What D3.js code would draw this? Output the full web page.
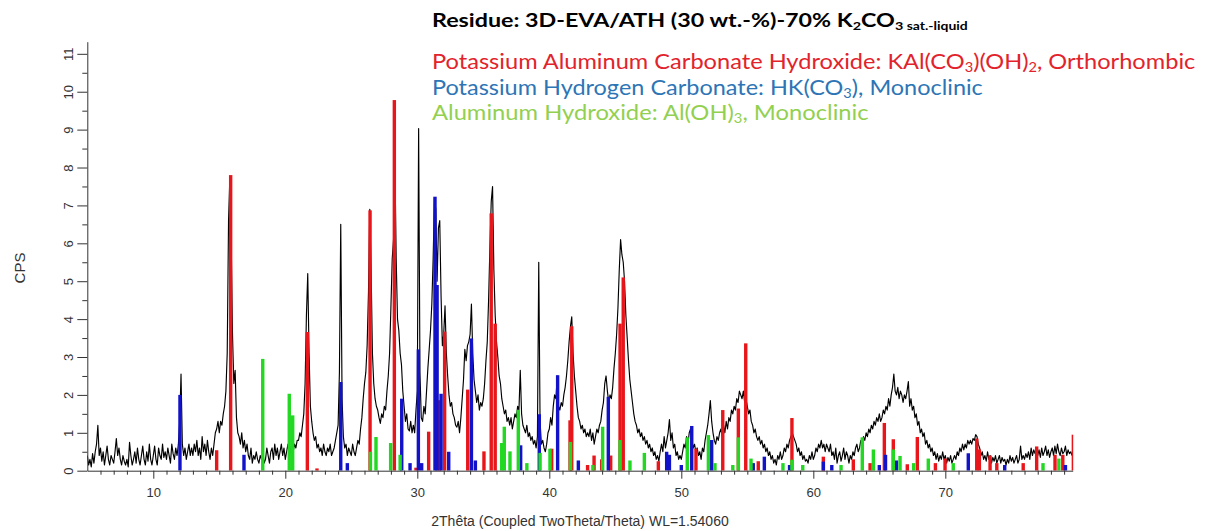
<!DOCTYPE html>
<html>
<head>
<meta charset="utf-8">
<script src="https://cdnjs.cloudflare.com/ajax/libs/d3/7.8.5/d3.min.js"></script>
<style>
  body { margin: 0; background: #fff; }
  svg { display: block; }
  .axis text { font-family: "Liberation Sans", Arial, sans-serif; font-size: 13px; fill: #333; }
  .axis line, .axis path { stroke: #333; }
</style>
</head>
<body>
<svg id="chart" width="1205" height="531"></svg>
<script>
// measured intensity (CPS), sampled every 0.1 deg 2theta, one array per 15 deg
var STEP = 0.1
var cpsFrom5 = [
  0.4,0.15,0.3,0.1,0.45,0.2,0.5,0.7,1.2,0.4,
  0.6,0.25,0.5,0.15,0.4,0.65,0.3,0.15,0.4,0.3,
  0.2,0.5,0.85,0.4,0.6,0.3,0.15,0.4,0.25,0.15,
  0.3,0.1,0.75,0.4,0.15,0.3,0.5,0.2,0.6,0.3,
  0.15,0.4,0.65,0.3,0.15,0.5,0.25,0.7,0.3,0.15,
  0.4,0.65,0.3,0.15,0.6,0.4,0.3,0.7,0.35,0.5,
  0.3,0.6,0.4,0.2,0.7,0.45,0.3,0.6,0.4,0.7,
  1.3,2.55,0.7,0.4,0.6,0.3,0.5,0.7,0.4,0.6,
  0.4,0.7,0.5,0.8,0.4,0.6,0.3,0.9,0.5,0.7,
  0.4,0.8,0.5,0.3,0.6,0.4,0.7,1.0,1.1,1.3,
  1.0,1.3,1.2,1.5,1.7,2.1,3.1,6.6,7.75,6.1,
  3.6,2.3,2.65,1.4,1.0,0.9,0.7,1.0,0.6,0.8,
  0.5,0.7,0.4,0.3,0.6,0.2,0.4,0.3,0.5,0.3,
  0.2,0.4,0.3,0.5,0.2,0.3,0.6,0.4,0.2,0.5,
  0.6,0.3,0.7,0.4,0.6,0.3,0.5,0.7,0.4,0.6
]
var cpsFrom20 = [
  0.3,0.5,0.7,0.4,0.6,0.3,0.5,0.7,0.6,0.8,
  0.8,1.0,0.9,1.2,1.5,2.3,4.1,5.2,3.1,1.7,
  1.3,1.0,0.8,0.9,0.6,0.7,0.5,0.6,0.4,0.7,
  0.5,0.4,0.6,0.5,0.7,0.4,0.5,0.6,0.8,1.0,
  1.2,2.6,6.5,1.9,0.9,0.6,0.7,0.4,0.6,0.5,
  0.4,0.7,0.5,0.4,0.6,0.8,0.7,1.1,1.4,1.9,
  2.3,2.6,3.3,4.7,6.9,5.3,3.1,2.3,1.9,1.7,
  1.6,1.4,1.25,1.5,1.4,1.7,1.6,2.1,2.5,3.1,
  4.3,5.6,6.1,8.2,5.6,4.0,3.7,3.1,2.8,2.1,
  1.7,1.3,1.5,1.1,1.05,1.3,1.0,1.2,1.0,1.6,
  2.1,9.03,2.6,1.4,1.3,1.7,1.5,2.1,2.7,3.2,
  3.7,4.4,5.6,7.2,6.9,5.0,6.4,6.6,4.6,3.3,
  3.6,4.35,3.1,2.5,2.0,1.7,1.8,1.5,1.4,1.2,
  1.15,1.3,1.0,1.4,1.9,2.4,3.2,2.9,3.3,3.4,
  3.6,4.4,3.1,2.4,2.1,1.8,2.0,1.6,1.8,1.7
]
var cpsFrom35 = [
  1.9,2.3,2.9,3.4,4.5,5.9,7.1,7.5,5.3,4.1,
  3.4,3.0,2.5,2.3,1.9,1.7,1.5,1.6,1.3,1.4,
  1.2,1.4,1.1,1.3,1.5,1.4,1.7,1.6,2.65,1.5,
  1.2,1.1,1.0,1.2,0.9,1.0,0.8,0.9,0.7,0.8,
  0.6,0.9,5.5,1.3,0.7,0.8,0.6,0.5,0.7,1.0,
  1.1,1.4,1.2,1.7,2.0,1.9,2.5,1.7,1.6,1.8,
  1.7,2.0,2.2,2.5,2.9,3.4,3.8,4.06,3.1,2.5,
  2.1,1.7,1.4,1.3,1.1,1.2,1.0,1.1,0.9,1.0,
  0.9,1.1,0.8,1.0,0.7,0.9,1.1,1.0,1.2,1.3,
  1.6,1.8,2.3,2.5,2.1,1.8,2.0,1.9,2.2,2.7,
  3.1,3.6,4.3,5.3,6.1,5.7,5.5,5.0,4.1,3.5,
  2.9,2.4,2.1,1.8,1.5,1.3,1.2,1.0,1.1,0.9,
  1.0,0.8,0.9,0.7,0.8,0.6,0.7,0.5,0.6,0.4,
  0.5,0.3,0.4,0.25,0.5,0.7,0.5,0.9,0.6,0.8,
  1.0,1.35,0.8,1.0,0.6,0.7,0.4,0.5,0.3,0.4
]
var cpsFrom50 = [
  0.3,0.5,0.7,0.6,0.9,0.7,1.0,1.1,0.8,0.6,
  0.7,0.5,0.6,0.4,0.5,0.3,0.6,0.5,0.8,1.0,
  1.2,1.5,1.85,1.3,1.0,0.8,0.7,0.9,0.8,1.0,
  1.1,0.9,1.2,1.0,1.3,1.1,1.4,1.3,1.6,1.5,
  1.7,1.6,1.9,1.8,2.1,2.0,1.9,2.1,1.8,1.9,
  1.7,1.5,1.6,1.3,1.2,1.0,1.1,0.9,0.8,0.9,
  0.7,0.8,0.6,0.7,0.5,0.6,0.4,0.5,0.3,0.4,
  0.2,0.3,0.15,0.4,0.3,0.5,0.3,0.4,0.6,0.5,
  0.7,0.6,0.8,0.9,1.0,0.9,0.8,0.7,0.5,0.6,
  0.4,0.5,0.3,0.4,0.25,0.3,0.2,0.4,0.3,0.5,
  0.3,0.4,0.6,0.5,0.7,0.6,0.8,0.6,0.7,0.5,
  0.7,0.6,0.5,0.7,0.4,0.5,0.3,0.6,0.2,0.4,
  0.5,0.25,0.4,0.6,0.3,0.5,0.4,0.2,0.4,0.3,
  0.5,0.4,0.6,0.7,0.5,0.6,0.8,0.7,0.9,0.8,
  1.0,0.9,1.1,1.0,1.2,1.1,1.3,1.2,1.4,1.3
]
var cpsFrom65 = [
  1.5,1.3,1.4,1.6,1.5,1.7,1.6,1.9,1.7,2.0,
  2.2,2.55,2.1,2.0,2.2,1.9,2.1,2.0,1.8,2.0,
  1.9,2.1,2.35,1.7,1.9,1.6,1.7,1.4,1.5,1.2,
  1.3,1.0,1.1,0.9,1.0,0.7,0.8,0.6,0.7,0.5,
  0.6,0.4,0.5,0.3,0.45,0.25,0.4,0.3,0.5,0.3,
  0.4,0.2,0.35,0.25,0.4,0.2,0.3,0.4,0.3,0.5,
  0.4,0.6,0.5,0.7,0.55,0.7,0.6,0.8,0.7,0.8,
  0.7,0.85,0.8,0.95,0.9,0.7,0.6,0.4,0.5,0.3,
  0.4,0.25,0.5,0.3,0.4,0.2,0.35,0.25,0.4,0.2,
  0.3,0.4,0.2,0.35,0.25,0.3,0.15,0.3,0.2,0.4,
  0.25,0.35,0.2,0.3,0.4,0.2,0.3,0.65,0.3,0.4,
  0.3,0.45,0.35,0.5,0.3,0.6,0.4,0.55,0.45,0.6,
  0.4,0.55,0.35,0.6,0.4,0.5,0.65,0.4,0.55,0.35,
  0.5,0.6,0.4,0.65,0.45,0.7,0.5,0.4,0.6,0.45,
  0.5,0.65,0.4,0.55,0.45,0.5,0.4
]

// reference pattern sticks [2theta, CPS]
var redSticks = [   // KAl(CO3)(OH)2
  [14.8,0.54],[15.86,7.8],[21.67,3.66],[22.4,0.06],[26.42,6.87],[28.26,9.78],
  [29.9,0.08],[30.86,1.03],[31.67,1.86],[32.07,3.67],[33.82,2.14],[35.05,0.51],
  [35.6,6.79],[35.9,3.88],[40.18,0.58],[41.57,1.33],[41.7,3.81],[42.9,0.15],
  [43.39,0.4],[43.97,0.3],[44.65,0.4],[45.36,3.88],[45.6,5.1],[48.26,0.25],
  [51.11,0.58],[53.14,1.6],[54.32,1.64],[54.88,3.36],[55.83,0.25],[58.38,1.39],
  [60.76,0.37],[63.03,0.3],[64.3,0.2],[65.38,1.26],[66.06,0.83],[67.12,0.17],
  [67.88,0.89],[69.25,0.2],[69.98,0.32],[72.38,0.85],[72.58,0.56],[73.39,0.4],
  [73.9,0.2],[75.9,0.2],[76.92,0.64],[78.31,0.42],[78.9,0.42],[79.7,0.95]
]
var blueSticks = [  // HK(CO3)
  [12.02,2.0],[16.87,0.42],[24.2,2.34],[24.7,0.2],[28.82,1.9],[29.45,0.2],
  [30.08,3.2],[30.33,0.2],[31.34,7.23],[31.5,4.9],[31.8,2.03],[32.38,0.5],
  [34.1,3.49],[34.4,0.27],[37.83,0.67],[39.24,1.49],[40.63,2.52],[42.2,0.27],
  [44.47,1.95],[48.89,0.5],[49.1,0.42],[50.0,0.15],[50.79,1.18],[52.3,0.81],
  [55.45,0.2],[56.29,0.37],[58.2,0.15],[60.76,0.24],[61.4,0.15],[65.0,0.15],
  [65.47,0.42],[66.3,0.27],[71.74,0.46],[74.5,0.15],[79.1,0.15]
]
var greenSticks = [ // Al(OH)3
  [18.29,2.95],[20.3,2.03],[20.56,1.46],[26.45,0.5],[26.87,0.89],[27.98,0.73],
  [28.7,0.42],[36.39,0.73],[36.59,1.16],[37.02,0.51],[37.65,1.6],[38.3,0.2],
  [39.3,0.47],[40.05,0.58],[41.6,0.76],[43.3,0.15],[44.04,1.16],[45.36,0.81],
  [46.11,0.27],[47.2,0.47],[50.45,0.88],[52.05,0.94],[52.55,0.2],[53.9,0.15],
  [54.32,0.88],[55.28,0.32],[57.7,0.2],[58.38,0.29],[59.2,0.15],[62.1,0.15],
  [63.71,0.88],[64.55,0.56],[66.06,0.56],[66.57,0.39],[67.6,0.2],[68.71,0.32],
  [70.6,0.2],[77.4,0.2],[78.6,0.32]
]

var xMajorTicks = [10, 20, 30, 40, 50, 60, 70]
var yMajorTicks = [0, 1, 2, 3, 4, 5, 6, 7, 8, 9, 10, 11]

var Plot = { left: 87.3, right: 1072.7, top: 41.7, bottom: 470.7 }

var Colors = {
  red: "#e8161b", blue: "#1212c8", green: "#22d822",
  legRed: "#e2232b", legBlue: "#2e75b6", legGreen: "#92d050"
}

main()

function main() {
  let svg = d3.select("#chart")

  let xScale = d3.scaleLinear()
    .domain([5, 79.65])
    .range([Plot.left, Plot.right])

  let yScale = d3.scaleLinear()
    .domain([0, 11.32])
    .range([Plot.bottom, Plot.top])

  svg.append("clipPath")
    .attr("id", "plotclip")
    .append("rect")
    .attr("x", Plot.left)
    .attr("y", 0)
    .attr("width", Plot.right - Plot.left + 0.5)
    .attr("height", Plot.bottom)

  // measured curve
  let points = []
  let segments = [[5, cpsFrom5], [20, cpsFrom20], [35, cpsFrom35], [50, cpsFrom50], [65, cpsFrom65]]
  segments.forEach(function(s) {
    s[1].forEach(function(v, i) { points.push([s[0] + i * STEP, v]) })
  })

  let line = d3.line()
    .x(function(d) { return xScale(d[0]) })
    .y(function(d) { return yScale(d[1]) })

  svg.append("path")
    .datum(points)
    .attr("clip-path", "url(#plotclip)")
    .attr("fill", "none")
    .attr("stroke", "#000")
    .attr("stroke-width", 1.15)
    .attr("stroke-linejoin", "round")
    .attr("d", line)

  // sticks: red first, then blue, green on top
  drawSticks(svg, redSticks, Colors.red, xScale, yScale)
  drawSticks(svg, blueSticks, Colors.blue, xScale, yScale)
  drawSticks(svg, greenSticks, Colors.green, xScale, yScale)

  drawAxes(svg, xScale, yScale)
  drawTexts(svg)
}

function drawSticks(svg, sticks, color, xScale, yScale) {
  let w = 3.4
  svg.append("g")
    .attr("clip-path", "url(#plotclip)")
    .selectAll("rect")
    .data(sticks)
    .enter()
    .append("rect")
    .attr("x", function(d) { return xScale(d[0]) - w / 2 })
    .attr("y", function(d) { return yScale(d[1]) })
    .attr("width", w)
    .attr("height", function(d) { return yScale(0) - yScale(d[1]) })
    .attr("fill", color)
}

function drawAxes(svg, xScale, yScale) {
  // x axis, major + minor ticks
  let xMinor = d3.range(6, 80).filter(function(v) { return v % 10 != 0 })
  svg.append("g")
    .classed("axis", true)
    .attr("transform", "translate(0," + Plot.bottom + ")")
    .call(d3.axisBottom(xScale).tickValues(xMinor).tickSize(4).tickFormat(""))
    .select(".domain").remove()

  let xAxis = svg.append("g")
    .classed("axis", true)
    .attr("transform", "translate(0," + Plot.bottom + ")")
    .call(d3.axisBottom(xScale).tickValues(xMajorTicks).tickSize(8).tickSizeOuter(0).tickPadding(9))
  xAxis.selectAll("text").attr("dy", "0.71em")

  // y axis, labels turned sideways
  let yMinor = d3.range(0.5, 11.5, 1)
  svg.append("g")
    .classed("axis", true)
    .attr("transform", "translate(" + Plot.left + ",0)")
    .call(d3.axisLeft(yScale).tickValues(yMinor).tickSize(5).tickFormat(""))
    .select(".domain").remove()

  let yAxis = svg.append("g")
    .classed("axis", true)
    .attr("transform", "translate(" + Plot.left + ",0)")
    .call(d3.axisLeft(yScale).tickValues(yMajorTicks).tickSize(10).tickSizeOuter(0))

  yAxis.selectAll(".tick text")
    .attr("x", null)
    .attr("dy", null)
    .attr("text-anchor", "middle")
    .attr("transform", "translate(-14.5,0) rotate(-90)")
}

function drawTexts(svg) {
  let sans = '"Liberation Sans", Arial, sans-serif'
  let calib = 'Lato, "Open Sans", sans-serif'

  svg.append("text")
    .attr("transform", "translate(25,268) rotate(-90)")
    .attr("text-anchor", "middle")
    .style("font-family", sans)
    .style("font-size", "15px")
    .attr("fill", "#333")
    .text("CPS")

  svg.append("text")
    .attr("x", 580)
    .attr("y", 526)
    .attr("text-anchor", "middle")
    .style("font-family", sans)
    .style("font-size", "14px")
    .attr("fill", "#333")
    .text("2Thêta (Coupled TwoTheta/Theta) WL=1.54060")

  // title and phase legend (Calibri-like, squeezed to the measured widths)
  richText(svg, 432, 27, 536, 19, "bold", "#000", calib, [
    ["Residue: 3D-EVA/ATH (30 wt.-%)-70% K"], ["2", 1], ["CO"], ["3", 1], [" sat.-liquid", 2]
  ])
  richText(svg, 432, 69, 764, 21, "normal", Colors.legRed, calib, [
    ["Potassium Aluminum Carbonate Hydroxide: KAl(CO"], ["3", 1], [")(OH)"], ["2", 1], [", Orthorhombic"]
  ])
  richText(svg, 432, 94.5, 551, 21, "normal", Colors.legBlue, calib, [
    ["Potassium Hydrogen Carbonate: HK(CO"], ["3", 1], ["), Monoclinic"]
  ])
  richText(svg, 432, 120, 437, 21, "normal", Colors.legGreen, calib, [
    ["Aluminum Hydroxide: Al(OH)"], ["3", 1], [", Monoclinic"]
  ])
}

// parts: [text, level] where level 0 = normal, 1 = subscript, 2 = small subscript
function richText(svg, x, y, width, size, weight, color, family, parts) {
  let g = svg.append("g")
  let t = g.append("text")
    .attr("x", 0)
    .attr("y", 0)
    .attr("fill", color)
    .style("font-family", family)
    .style("font-weight", weight)
    .style("font-size", size + "px")
    .style("white-space", "pre")

  let shift = 0
  parts.forEach(function(p) {
    let level = p[1] || 0
    let want = level ? size * 0.16 : 0
    let fs = level == 2 ? size * 0.6 : (level == 1 ? size * 0.62 : size)
    t.append("tspan")
      .attr("dy", want - shift)
      .style("font-size", fs + "px")
      .text(p[0])
    shift = want
  })

  let w = t.node().getComputedTextLength()
  g.attr("transform", "translate(" + x + "," + y + ") scale(" + (width / w) + ",1)")
}
</script>
</body>
</html>
